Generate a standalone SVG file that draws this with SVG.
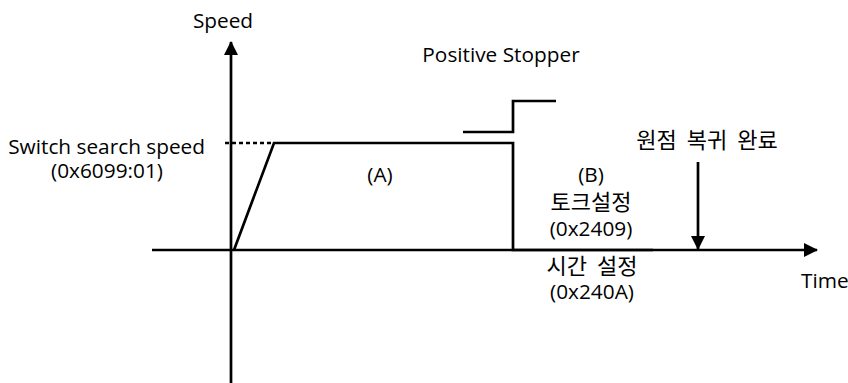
<svg xmlns="http://www.w3.org/2000/svg" width="848" height="383" viewBox="0 0 848 383">
<defs>
<style>
.ln{stroke:#000;stroke-width:2.7;fill:none}
.t{font-family:"Open Sans","Noto Sans CJK KR",sans-serif;font-size:20.8px;fill:#000}
.k{font-family:"Noto Sans CJK KR","Open Sans",sans-serif;font-size:22px;fill:#000;word-spacing:5px}
.m{text-anchor:middle}
</style>
<marker id="ah" viewBox="0 0 14 14" refX="13" refY="7" markerWidth="14" markerHeight="14" markerUnits="userSpaceOnUse" orient="auto">
<path d="M0,0 L14,7 L0,14 Z" fill="#000"/>
</marker>
</defs>
<g id="connectors">
<line id="y-axis" class="ln" x1="231" y1="383" x2="231" y2="42" marker-end="url(#ah)"/>
<line id="x-axis" class="ln" x1="152" y1="250" x2="817" y2="250" marker-end="url(#ah)"/>
<line id="dash" class="ln" x1="225" y1="143" x2="274" y2="143" stroke-dasharray="4 3"/>
<polyline id="profile" class="ln" points="234,250 274,143 513,143 513,250 653,250"/>
<polyline id="stopper" class="ln" points="463,132 513,132 513,101 556,101"/>
<line id="done-arrow" class="ln" x1="698" y1="162" x2="698" y2="249" marker-end="url(#ah)"/>
</g>
<g id="label-speed"><text class="t m" x="223" y="28">Speed</text></g>
<g id="label-stopper"><text class="t m" x="501" y="62">Positive Stopper</text></g>
<g id="label-switch">
<text class="t" x="205" y="154" text-anchor="end">Switch search speed</text>
<text class="t m" x="107" y="178">(0x6099:01)</text>
</g>
<g id="label-a"><text class="t m" x="380" y="182">(A)</text></g>
<g id="label-b">
<text class="t m" x="591" y="182">(B)</text>
<text class="k m" x="591" y="210">토크설정</text>
<text class="t m" x="591" y="236">(0x2409)</text>
<text class="k m" x="592" y="274">시간 설정</text>
<text class="t m" x="592" y="299">(0x240A)</text>
</g>
<g id="label-done"><text class="k m" x="707" y="148">원점 복귀 완료</text></g>
<g id="label-time"><text class="t" x="801" y="288">Time</text></g>
</svg>
